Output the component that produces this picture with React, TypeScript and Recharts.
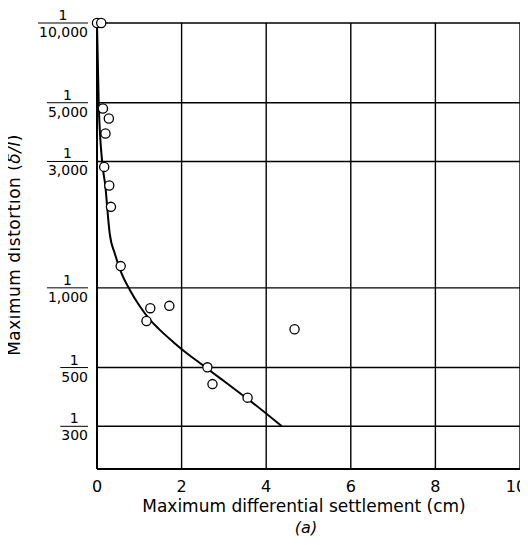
import React from 'react';
import { ComposedChart, Scatter, Line, XAxis, YAxis, CartesianGrid } from 'recharts';

// measured points: max differential settlement (cm) vs distortion denominator (l/δ)
const settlement = [0, 0.1, 0.14, 0.28, 0.2, 0.17, 0.29, 0.33, 0.56, 1.26, 1.17, 1.71, 2.61, 2.73, 3.56, 4.67];
const distortion = [10000, 10000, 4753, 4357, 3826, 2862, 2434, 2022, 1208, 838, 750, 855, 501, 433, 385, 698];

// fitted curve
const curveSettlement = [0, 0.04, 0.13, 0.2, 0.24, 0.3, 0.42, 0.58, 0.78, 1.02, 1.26, 1.46, 1.8, 2.13, 2.44, 2.76, 3.07, 3.39, 3.7, 4.37];
const curveDistortion = [10000, 5000, 2904, 2406, 2022, 1604, 1349, 1133, 980, 848, 755, 700, 625, 565, 519, 475, 436, 399, 366, 300];

const xTicks = [0, 2, 4, 6, 8, 10];
const yTicks = [300, 500, 1000, 3000, 5000, 10000];
const yTickLabels = ['300', '500', '1,000', '3,000', '5,000', '10,000'];

const points = settlement.map((x, i) => ({ x, y: distortion[i] }));
const curve = curveSettlement.map((x, i) => ({ x, y: curveDistortion[i] }));

const FONT = '"DejaVu Sans", sans-serif';

const FractionTick = ({ y, payload }: any) => {
  const den = yTickLabels[yTicks.indexOf(payload.value)] || '';
  const w = den.split('').reduce((s, c) => s + (c === ',' ? 4.45 : 8.9), 0) + 1;
  const right = 88;
  return (
    <g>
      <text x={right - w / 2} y={y - 3} textAnchor="middle" fontSize={14} fill="#000" fontFamily={FONT}>1</text>
      <line x1={right - w} x2={right} y1={y} y2={y} stroke="#000" strokeWidth={1} />
      <text x={right} y={y + 14} textAnchor="end" fontSize={14} fill="#000" fontFamily={FONT}>{den}</text>
    </g>
  );
};

const XTick = ({ x, payload }: any) => (
  <text
    x={payload.value === 10 ? x - 4 : x}
    y={484}
    textAnchor="middle"
    fontSize={16}
    fill="#000"
    fontFamily={FONT}
  >
    {payload.value}
  </text>
);

const XLabel = () => (
  <g>
    <text x={304} y={504} textAnchor="middle" fontSize={17} fill="#000" fontFamily={FONT}>
      Maximum differential settlement (cm)
    </text>
    <text x={306} y={525} textAnchor="middle" fontSize={16} fontStyle="italic" fill="#000" fontFamily={FONT}>
      (a)
    </text>
  </g>
);

const YLabel = () => (
  <g transform="translate(20 237) rotate(-90)">
    <text x={0} y={0} textAnchor="middle" fontSize={17} letterSpacing={0.5} fill="#000" fontFamily={FONT}>
      Maximum distortion (<tspan fontStyle="italic">δ/l</tspan>)
    </text>
  </g>
);

export default function App() {
  return (
    <div style={{ marginLeft: -8, width: 528 }}>
      <ComposedChart
        width={528}
        height={529}
        margin={{ top: 15, right: 8, bottom: 0, left: 8 }}
        style={{ fontFamily: FONT }}
      >
        <CartesianGrid stroke="#000" strokeWidth={1.4} strokeDasharray="" />
        <XAxis
          type="number"
          dataKey="x"
          domain={[0, 10]}
          ticks={xTicks}
          height={68}
          tickLine={false}
          axisLine={{ stroke: '#000', strokeWidth: 2 }}
          tick={<XTick />}
          label={<XLabel />}
        />
        <YAxis
          type="number"
          dataKey="y"
          scale="log"
          domain={[207, 10000]}
          ticks={yTicks}
          width={89}
          tickLine={false}
          axisLine={{ stroke: '#000', strokeWidth: 2 }}
          tick={<FractionTick />}
          label={<YLabel />}
        />
        <Line
          data={curve}
          dataKey="y"
          type="monotoneX"
          stroke="#000"
          strokeWidth={2}
          dot={false}
          activeDot={false}
          isAnimationActive={false}
        />
        <Scatter
          data={points}
          shape={(p: any) => (
            <circle cx={p.cx} cy={p.cy} r={4.6} fill="#fff" stroke="#000" strokeWidth={1.3} />
          )}
          isAnimationActive={false}
        />
      </ComposedChart>
    </div>
  );
}
